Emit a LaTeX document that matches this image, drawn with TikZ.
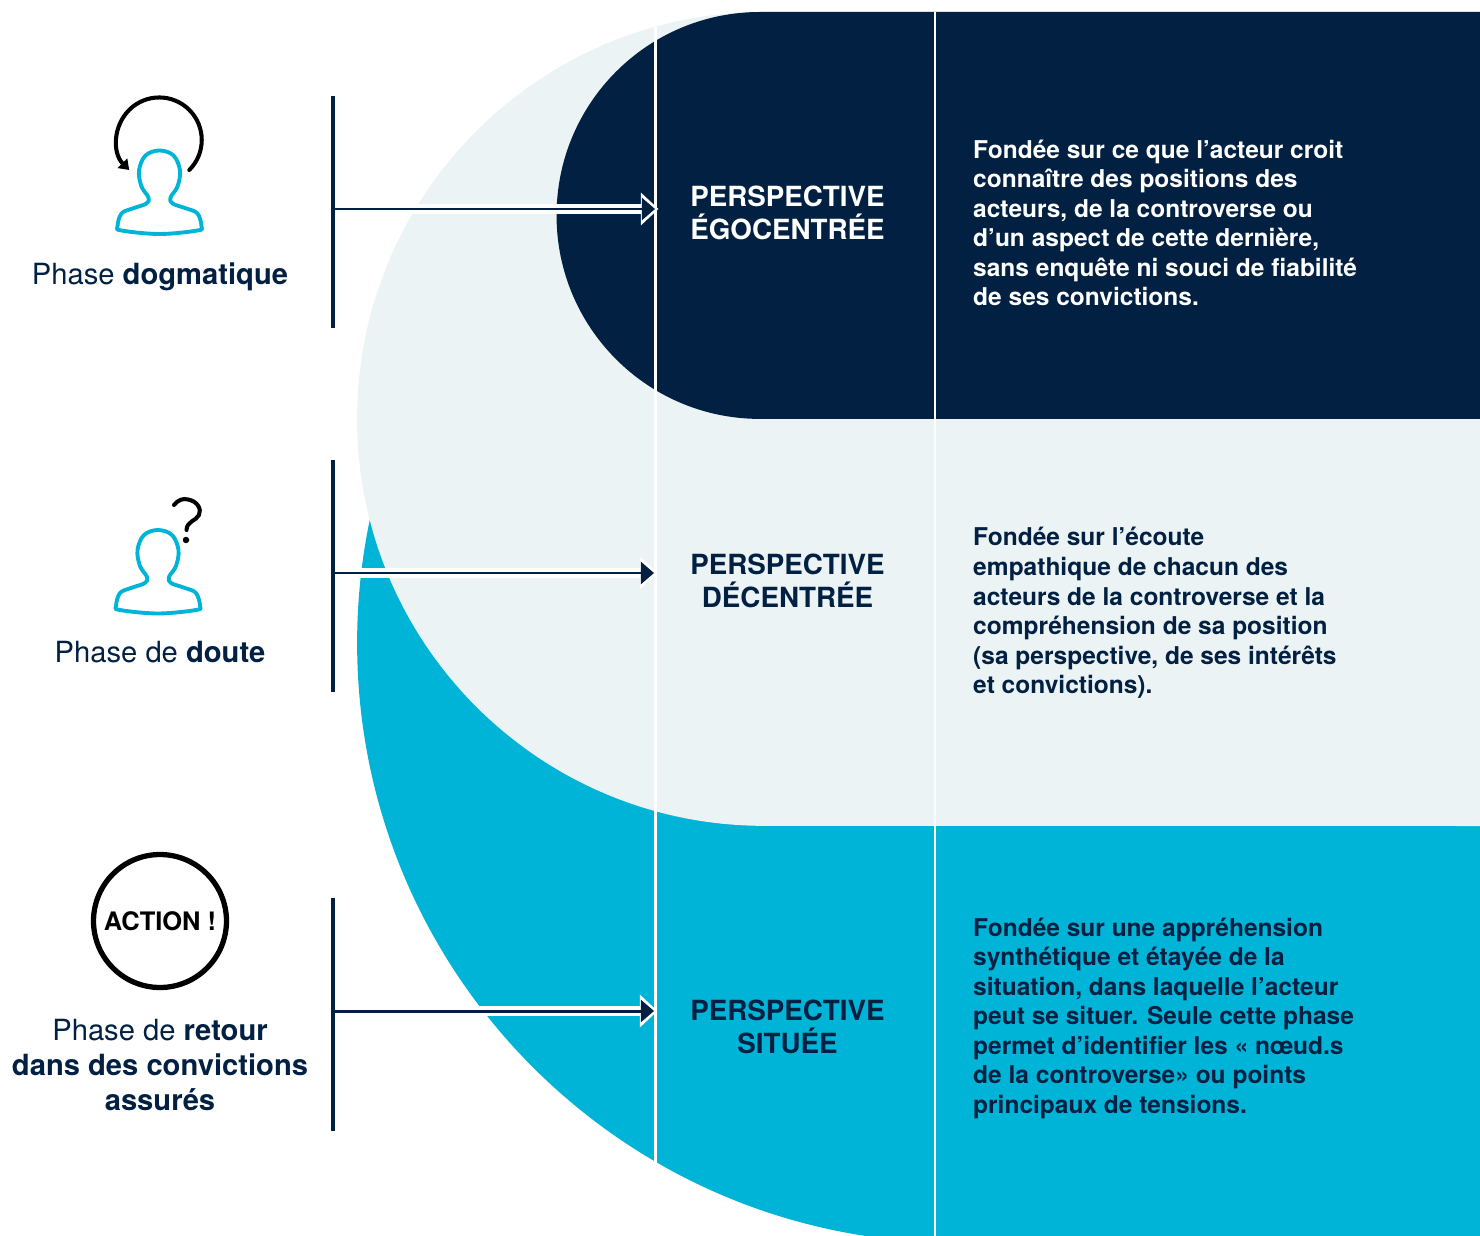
\documentclass[tikz,border=0pt]{standalone}
\usepackage{fontspec}
\setmainfont{TeX Gyre Heros}
\usepackage{xcolor}
\usetikzlibrary{arrows.meta}
\definecolor{navy}{HTML}{012042}
\definecolor{pale}{HTML}{EBF3F5}
\definecolor{teal}{HTML}{00B4D8}

\begin{document}
\begin{tikzpicture}[x=0.02cm,y=-0.02cm,
		phase node/.style={font=\fontsize{16.6}{19.9}\selectfont,text=navy,align=center},
		title node/.style={font=\fontsize{15.8}{18.9}\selectfont\bfseries,text=navy,align=center},
		body node/.style={anchor=west,font=\fontsize{13.95}{16.8}\selectfont\bfseries,text=navy,align=left},
		bar/.style={navy,line width=2pt},
		halo/.style={white,line width=5.2pt,shorten >=-2pt,-{Triangle[length=10pt,width=18pt]}},
		pointer/.style={navy,line width=1.7pt,-{Triangle[length=7.5pt,width=12.5pt]}},
		person/.pic={
			\draw[teal,line width=2.2pt,line join=round] plot[smooth cycle,tension=0.6] coordinates {(0,0) (14,5) (20.5,20) (18,36) (11,47) (13,53) (27,58) (38,63) (42,76) (38,80) (0,83.5) (-38,80) (-42,76) (-38,63) (-27,58) (-13,53) (-11,47) (-18,36) (-20.5,20) (-14,5)};
		}]

	\useasboundingbox (0,0) rectangle (1480,1236);
	\clip (0,0) rectangle (1480,1236);

	% Bands
	\fill[teal] (957,643) circle[radius=12cm];
	\fill[teal] (900,826) rectangle (1480,1236);
	\fill[pale] (1480,12) -- (764,12) arc[start angle=90,end angle=270,radius=8.14cm] -- (1480,826) -- cycle;
	\fill[navy] (1480,12) -- (760,12) arc[start angle=90,end angle=270,radius=4.07cm] -- (1480,419) -- cycle;

	% Columns
	\draw[white,line width=1.6pt] (655.5,27) -- (655.5,1164);
	\draw[white,line width=1.6pt] (935,12) -- (935,1236);

	% Bars
	\coordinate (barA) at (333,209);
	\coordinate (barB) at (333,573);
	\coordinate (barC) at (333,1011);
	\coordinate (tipA) at (655,209);
	\coordinate (tipB) at (654,573);
	\coordinate (tipC) at (654,1011);

	% Arrows
	\draw[halo] (barA) -- (tipA);
	\draw[pointer] (barA) -- (tipA);
	\draw[halo] (barB) -- (tipB);
	\draw[pointer] (barB) -- (tipB);
	\draw[halo] (barC) -- (tipC);
	\draw[pointer] (barC) -- (tipC);

	\draw[bar] (333,96) -- (333,328);
	\draw[bar] (333,460) -- (333,692);
	\draw[bar] (333,898) -- (333,1131);

	% Icons
	\pic at (159.5,150.5) {person};
	\draw[black,line width=2.3pt,line cap=round,-{Triangle[length=5.5pt,width=7.5pt]}] (189.3,170) arc[start angle=-45,end angle=225,radius=0.85cm];

	\pic at (158,530) {person};
	\draw[black,line width=2.3pt,line cap=round] (174,505) .. controls (178,500) and (183,498) .. (188,499.5) .. controls (197,501) and (202,509) .. (199,515) .. controls (196,521) and (187,521) .. (186.5,530);
	\fill[black] (186,540) circle[radius=0.065cm];

	\node[circle,draw=black,line width=3pt,minimum size=2.66cm,inner sep=0pt,font=\fontsize{14.5}{17}\selectfont\bfseries,text=black] (action) at (160,921) {ACTION !};

	% Phases
	\node[phase node] (dogma) at (160,277) {Phase \textbf{dogmatique}};
	\node[phase node] (doute) at (160,652) {Phase de \textbf{doute}};
	\node[phase node] (retour) at (160,1065) {Phase de \textbf{retour}\\\textbf{dans des convictions}\\\textbf{assurés}};

	% Perspectives
	\node[title node,text=white] (ego) at (787.5,213) {PERSPECTIVE\\ÉGOCENTRÉE};
	\node[title node] (decentre) at (787.5,581) {PERSPECTIVE\\DÉCENTRÉE};
	\node[title node] (situe) at (787.5,1027) {PERSPECTIVE\\SITUÉE};

	% Texts
	\node[body node,text=white] (egoText) at (967,223) {Fondée sur ce que l’acteur croit\\connaître des positions des\\acteurs, de la controverse ou\\d’un aspect de cette dernière,\\sans enquête ni souci de fiabilité\\de ses convictions.};
	\node[body node] (decentreText) at (967,613) {Fondée sur l’écoute\\empathique de chacun des\\acteurs de la controverse et la\\compréhension de sa position\\(sa perspective, de ses intérêts\\et convictions).};
	\node[body node] (situeText) at (967,1018) {Fondée sur une appréhension\\synthétique et étayée de la\\situation, dans laquelle l’acteur\\peut se situer. Seule cette phase\\permet d’identifier les « nœud.s\\de la controverse» ou points\\principaux de tensions.};

\end{tikzpicture}
\end{document}
